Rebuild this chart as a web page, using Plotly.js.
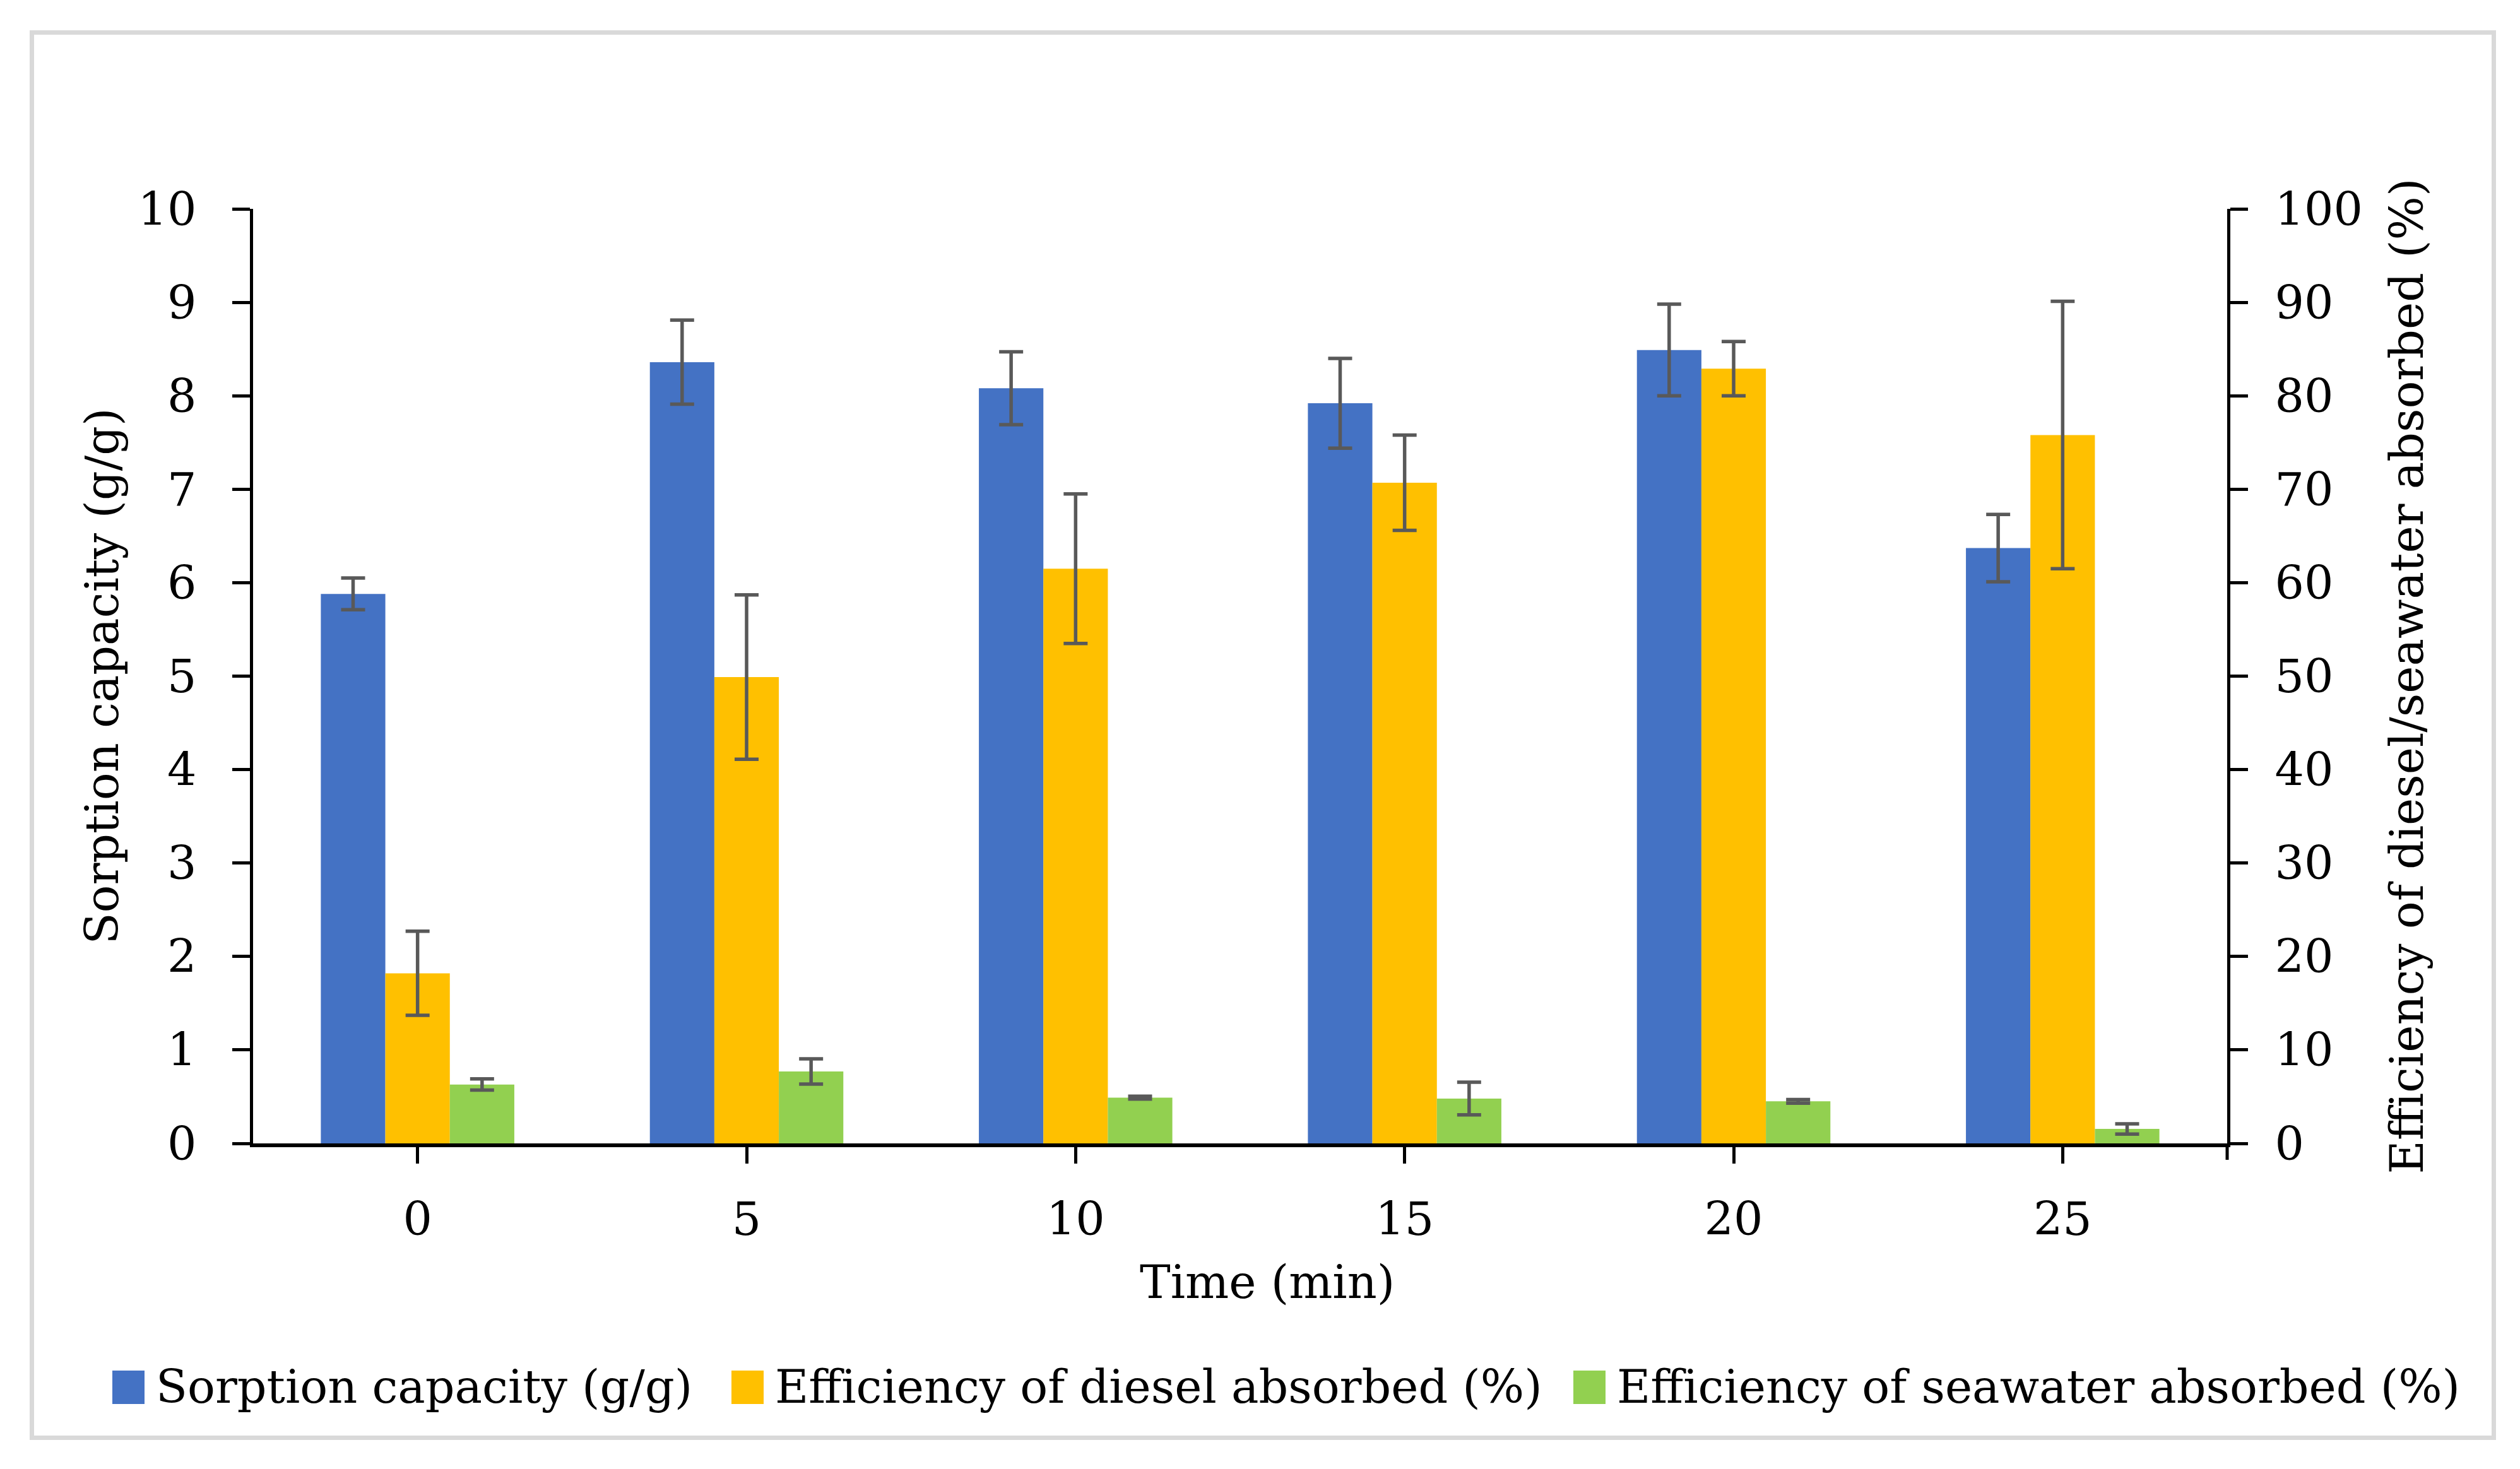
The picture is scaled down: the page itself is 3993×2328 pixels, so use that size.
<!DOCTYPE html>
<html>
<head>
<meta charset="utf-8">
<script src="https://cdn.plot.ly/plotly-3.0.1.min.js"></script>
<style>
  html, body { margin: 0; padding: 0; background: #ffffff; }
  #chart { width: 3993px; height: 2328px; }
  #frame { position: absolute; left: 47px; top: 48px; width: 3894px; height: 2220px;
           border: 7px solid #d9d9d9; pointer-events: none; }
</style>
</head>
<body>
<div id="chart"></div>
<div id="frame"></div>
<script>
// ---- data ----
const times = ['0', '5', '10', '15', '20', '25'];
const sorptionCapacity = [5.88, 8.36, 8.08, 7.92, 8.49, 6.37];     // g/g
const sorptionError    = [0.17, 0.45, 0.39, 0.48, 0.49, 0.36];
const dieselEfficiency = [18.2, 49.9, 61.5, 70.7, 82.9, 75.8];     // %
const dieselError      = [4.5, 8.8, 8.0, 5.1, 2.9, 14.3];
const seawaterEfficiency = [6.3, 7.7, 4.9, 4.8, 4.5, 1.55];        // %
const seawaterError      = [0.6, 1.35, 0.15, 1.75, 0.2, 0.55];
const leftTicks  = [0, 1, 2, 3, 4, 5, 6, 7, 8, 9, 10];
const rightTicks = [0, 10, 20, 30, 40, 50, 60, 70, 80, 90, 100];
const seriesNames = ['Sorption capacity (g/g)', 'Efficiency of diesel absorbed (%)', 'Efficiency of seawater absorbed (%)'];
const seriesColors = ['#4472C4', '#FFC000', '#92D050'];
const xTitle = 'Time (min)';
const yTitle = 'Sorption capacity (g/g)';
const y2Title = 'Efficiency of diesel/seawater absorbed (%)';

// ---- styling / layout constants (pixels) ----
const FONT = 'DejaVu Serif, Liberation Serif, serif';
const FS = 73;
const W = 3993, H = 2328;
const M = { l: 401, r: 464, t: 331, b: 516 };
const plotW = W - M.l - M.r, plotH = H - M.t - M.b;
const px2x = function (px) { return (px - M.l) / plotW; };
const py2y = function (py) { return (H - M.b - py) / plotH; };
const barW = 0.196;
const errStyle = { type: 'data', visible: true, color: '#595959', thickness: 5.5, width: 19 };

const traces = [
  { type: 'bar', name: seriesNames[0], x: times, y: sorptionCapacity, yaxis: 'y',
    width: barW, offset: -1.5 * barW, marker: { color: seriesColors[0] },
    error_y: Object.assign({ array: sorptionError }, errStyle) },
  { type: 'bar', name: seriesNames[1], x: times, y: dieselEfficiency, yaxis: 'y2',
    width: barW, offset: -0.5 * barW, marker: { color: seriesColors[1] },
    error_y: Object.assign({ array: dieselError }, errStyle) },
  { type: 'bar', name: seriesNames[2], x: times, y: seawaterEfficiency, yaxis: 'y2',
    width: barW, offset: 0.5 * barW, marker: { color: seriesColors[2] },
    error_y: Object.assign({ array: seawaterError }, errStyle) }
];

// manual legend (Excel-style square swatches), positioned in pixels
const legendSwatchLeft = [178, 1159, 2493];
const legendSwatchSize = 51;
const legendTop = 2172, legendBottom = 2225, legendMid = 2197;
const legendShapes = seriesNames.map(function (n, i) {
  return { type: 'rect', xref: 'paper', yref: 'paper',
    x0: px2x(legendSwatchLeft[i]), x1: px2x(legendSwatchLeft[i] + legendSwatchSize),
    y0: py2y(legendBottom), y1: py2y(legendTop),
    fillcolor: seriesColors[i], line: { width: 0 } };
});
const legendTexts = seriesNames.map(function (n, i) {
  return { text: n, xref: 'paper', yref: 'paper',
    x: px2x(legendSwatchLeft[i] + legendSwatchSize + 16), y: py2y(legendMid),
    xanchor: 'left', yanchor: 'middle', showarrow: false,
    font: { family: FONT, size: FS, color: '#000000' } };
});
// small end tick below the baseline at the right axis (as in the reference)
const endTick = { type: 'line', xref: 'paper', yref: 'paper', x0: 1, x1: 1,
  y0: 0, y1: py2y(H - M.b + 26), line: { color: '#000000', width: 5 } };

const layout = {
  width: W, height: H,
  paper_bgcolor: '#ffffff', plot_bgcolor: '#ffffff',
  font: { family: FONT, size: FS, color: '#000000' },
  margin: { l: M.l, r: M.r, t: M.t, b: M.b, pad: 0 },
  barmode: 'overlay',
  showlegend: false,
  xaxis: {
    type: 'category', range: [-0.5, 5.5],
    showline: true, linecolor: '#000000', linewidth: 6,
    ticks: 'outside', ticklen: 26, tickwidth: 5, tickcolor: '#000000',
    ticklabelstandoff: 25,
    tickfont: { family: FONT, size: FS, color: '#000000' },
    showgrid: false, zeroline: false, fixedrange: true
  },
  yaxis: {
    range: [0, 10], tickvals: leftTicks,
    showline: true, linecolor: '#000000', linewidth: 5,
    ticks: 'outside', ticklen: 28, tickwidth: 5, tickcolor: '#000000',
    ticklabelstandoff: 42,
    tickfont: { family: FONT, size: FS, color: '#000000' },
    showgrid: false, zeroline: false, fixedrange: true,
    title: { text: yTitle, font: { family: FONT, size: FS, color: '#000000' }, standoff: 8 }
  },
  yaxis2: {
    range: [0, 100], tickvals: rightTicks, overlaying: 'y', side: 'right',
    showline: true, linecolor: '#000000', linewidth: 5,
    ticks: 'outside', ticklen: 28, tickwidth: 5, tickcolor: '#000000',
    ticklabelstandoff: 28,
    tickfont: { family: FONT, size: FS, color: '#000000' },
    showgrid: false, zeroline: false, fixedrange: true,
    title: { text: y2Title, font: { family: FONT, size: FS, color: '#000000' }, standoff: 46 }
  },
  shapes: legendShapes.concat([endTick]),
  annotations: [
    { text: xTitle, xref: 'paper', yref: 'paper', x: 0.5137, y: -0.148,
      xanchor: 'center', yanchor: 'middle', showarrow: false,
      font: { family: FONT, size: FS, color: '#000000' } }
  ].concat(legendTexts)
};

Plotly.newPlot('chart', traces, layout, { staticPlot: true, displayModeBar: false });
</script>
</body>
</html>
